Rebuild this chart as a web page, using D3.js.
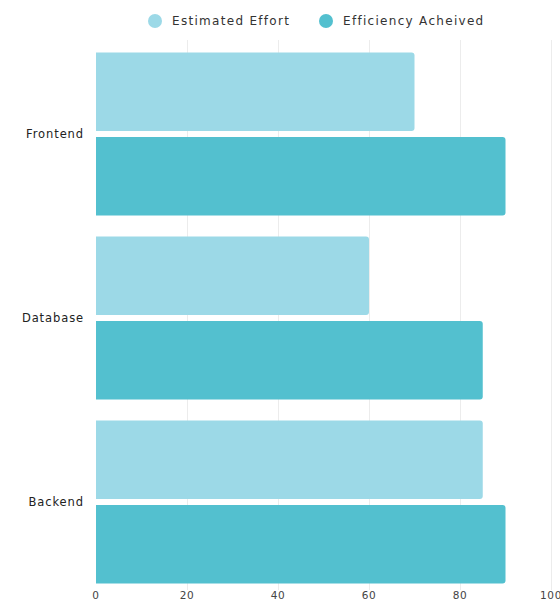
<!DOCTYPE html>
<html>
<head>
<meta charset="utf-8">
<script src="https://cdn.jsdelivr.net/npm/d3@7"></script>
<style>
  body { margin: 0; background: #fff; }
  text { font-family: "DejaVu Sans", sans-serif; }
</style>
</head>
<body>
<script>
var categories = ["Frontend", "Database", "Backend"];
var seriesNames = ["Estimated Effort", "Efficiency Acheived"];
var estimated = [70, 60, 85];
var achieved = [90, 85, 90];
var xTicks = [0, 20, 40, 60, 80, 100];

var colors = ["#9cd9e7", "#53c0cf"];

var width = 560,
    height = 602;

var svg = d3.select("body")
  .append("svg")
  .attr("width", width)
  .attr("height", height)

var rows = categories.map(function(c, i) {
  return { name: c, values: [estimated[i], achieved[i]] }
})

var x = d3.scaleLinear().domain([0, 100]).range([96, 551])
var y = d3.scaleBand().domain(categories).range([42, 594]).paddingInner(0.114).paddingOuter(0.057)
var ySub = d3.scaleBand().domain([0, 1]).range([0, y.bandwidth()]).paddingInner(0.07)

// grid lines
svg.append("g")
  .selectAll("line")
  .data(xTicks.slice(1))
  .enter().append("line")
  .attr("x1", function(d) { return x(d) + 0.5 })
  .attr("x2", function(d) { return x(d) + 0.5 })
  .attr("y1", 40)
  .attr("y2", 590)
  .attr("stroke", "#ececec")

// bars, square on the left, rounded on the right
function barPath(x0, x1, y0, h, r) {
  return "M" + x0 + "," + y0 +
    "H" + (x1 - r) +
    "Q" + x1 + "," + y0 + " " + x1 + "," + (y0 + r) +
    "V" + (y0 + h - r) +
    "Q" + x1 + "," + (y0 + h) + " " + (x1 - r) + "," + (y0 + h) +
    "H" + x0 + "Z"
}

var groups = svg.selectAll(".row")
  .data(rows)
  .enter().append("g")
  .attr("class", "row")
  .attr("transform", function(d) { return "translate(0 " + y(d.name) + ")" })

groups.selectAll("path")
  .data(function(d) { return d.values })
  .enter().append("path")
  .attr("d", function(d, i) {
    return barPath(x(0), x(d), ySub(i), ySub.bandwidth(), 3)
  })
  .attr("fill", function(d, i) { return colors[i] })

// category labels
svg.append("g")
  .selectAll("text")
  .data(categories)
  .enter().append("text")
  .attr("x", 84)
  .attr("y", function(d) { return y(d) + y.bandwidth() / 2 })
  .attr("dy", "0.35em")
  .attr("text-anchor", "end")
  .attr("font-size", 11.5)
  .attr("letter-spacing", 0.9)
  .attr("fill", "#222")
  .text(function(d) { return d })

// x axis labels
svg.append("g")
  .selectAll("text")
  .data(xTicks)
  .enter().append("text")
  .attr("x", function(d) { return x(d) })
  .attr("y", 599)
  .attr("text-anchor", "middle")
  .attr("font-size", 10.5)
  .attr("letter-spacing", 0.6)
  .attr("fill", "#444")
  .text(function(d) { return d })

// legend
var legendX = [155, 326]
var legend = svg.append("g")
  .selectAll("g")
  .data(seriesNames)
  .enter().append("g")
  .attr("transform", function(d, i) { return "translate(" + legendX[i] + " 21)" })

legend.append("circle")
  .attr("r", 7)
  .attr("fill", function(d, i) { return colors[i] })

legend.append("text")
  .attr("x", 17)
  .attr("dy", "0.35em")
  .attr("font-size", 12)
  .attr("letter-spacing", 1.3)
  .attr("fill", "#333")
  .text(function(d) { return d })
</script>
</body>
</html>
